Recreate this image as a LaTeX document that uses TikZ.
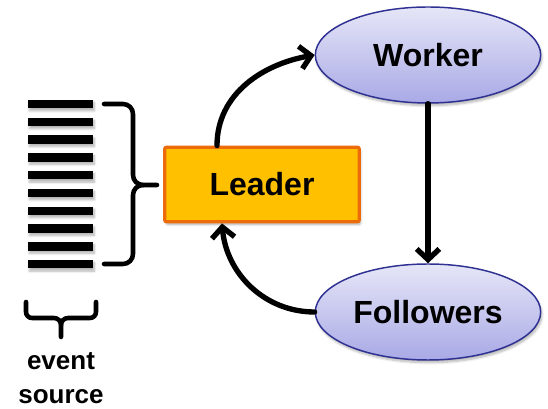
\documentclass[tikz,border=0pt]{standalone}
\usepackage{fontspec}
\setsansfont{Liberation Sans}
\usetikzlibrary{arrows.meta,positioning,calc,shapes.geometric,shadows.blur}
\definecolor{leadfill}{HTML}{FFC000}
\definecolor{leadline}{HTML}{EC6C0C}
\definecolor{ovaltop}{HTML}{E6E6F8}
\definecolor{ovalbot}{HTML}{A9A9E6}
\definecolor{ovalline}{HTML}{2E3192}

\begin{document}
\begin{tikzpicture}[x=0.75pt,y=0.75pt,
  every node/.style={font=\sffamily\bfseries\fontsize{24}{28}\selectfont},
  soft/.style={blur shadow={shadow blur steps=6,shadow xshift=1pt,shadow yshift=-2pt,shadow opacity=30}},
  role/.style={ellipse,draw=ovalline,line width=1.1pt,top color=ovaltop,bottom color=ovalbot,
    minimum width=169pt,minimum height=72pt,inner sep=0pt,soft},
  lead/.style={rectangle,draw=leadline,line width=2.4pt,fill=leadfill,rounded corners=1.5pt,
    minimum width=146pt,minimum height=56pt,inner sep=0pt,soft},
  bar/.style={fill=black,minimum width=48.75pt,minimum height=6.3pt,inner sep=0pt,soft},
  flow/.style={line width=4pt,line cap=round,-{Straight Barb[length=8pt,width=17pt]}},
  brk/.style={line width=3.4pt,line cap=round,line join=round}
]
\useasboundingbox (0,0) rectangle (548,409);

% the queue of events
\foreach \k in {0,...,9}
  \node[bar] (b\k) at (60.5,{305-17.8*\k}) {};

% brace gathering the queue
\draw[brk] (104,305) -- (123,305) to[out=0,in=90] (133,295) -- (133,234)
  to[out=-90,in=180] (143,224) -- (157,224);
\draw[brk] (104,145) -- (123,145) to[out=0,in=-90] (133,155) -- (133,214)
  to[out=90,in=180] (143,224);

% brace under the queue
\draw[brk] (26,107) -- (26,97) to[out=-90,in=180] (32,91) -- (54,91)
  to[out=0,in=90] (61,84) -- (61,72);
\draw[brk] (96,107) -- (96,97) to[out=-90,in=0] (90,91) -- (68,91)
  to[out=180,in=90] (61,84);
\node[align=center,font=\sffamily\bfseries\fontsize{19.5}{26}\selectfont] (src) at (61,31) {event\\source};

\node[lead] (leader) at (262,224.5) {Leader};
\node[role] (worker) at (428,354) {Worker};
\node[role] (fol) at (428,97) {Followers};

\draw[flow] ($(leader.north)+(-45,0)$) to[out=90,in=190] (worker.west);
\draw[flow] (worker.south) -- (fol.north);
\draw[flow] (fol.west) to[out=180,in=-85] ($(leader.south)+(-40,0)$);
\end{tikzpicture}
\end{document}
